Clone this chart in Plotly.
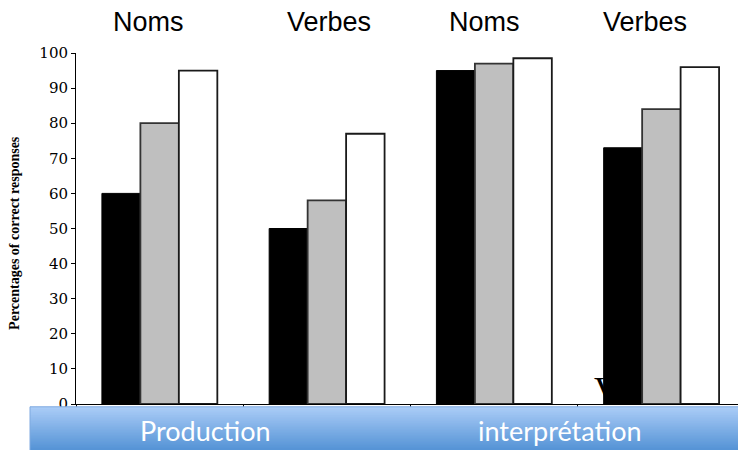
import plotly.graph_objects as go

# ---- data ----
groups = ["Noms", "Verbes", "Noms", "Verbes"]
tasks = ["Production", "interprétation"]
series_black = [60, 50, 95, 73]
series_gray = [80, 58, 97, 84]
series_white = [95, 77, 98.5, 96]
y_ticks = [0, 10, 20, 30, 40, 50, 60, 70, 80, 90, 100]
y_title = "Percentages of correct responses"

# the page body has an 8px margin; all pixel positions below are window pixels
OFF = 8
W, H = 746 - OFF, 450 - OFF
L, R, T, B = 76 - OFF, 1, 52.7 - OFF, 45.5
PW = W - L - R
PH = H - T - B


def px_x(px):
    return (px - OFF - L) / PW


def px_y(py):
    return (H - B - (py - OFF)) / PH


xpos = list(range(len(groups)))

fig = go.Figure()
fig.add_trace(go.Bar(x=xpos, y=series_black, marker=dict(color="#000000", line=dict(color="#000000", width=1)), showlegend=False))
fig.add_trace(go.Bar(x=xpos, y=series_gray, marker=dict(color="#bfbfbf", line=dict(color="#333333", width=1.8)), showlegend=False))
fig.add_trace(go.Bar(x=xpos, y=series_white, marker=dict(color="#ffffff", line=dict(color="#1a1a1a", width=1.8)), showlegend=False))

shapes = []
# gradient band: overlapping rects, each running from its top edge to the band bottom
top_px, bot_px = 407.3, 450
x0p, x1p = 30, 746
n = 43
c_top = (170, 204, 247)
c_bot = (86, 148, 214)
for i in range(n):
    t = i / (n - 1)
    c = tuple(round(c_top[k] + (c_bot[k] - c_top[k]) * t) for k in range(3))
    ya = top_px + (bot_px - top_px) * i / n
    shapes.append(dict(type="rect", xref="paper", yref="paper",
                       x0=px_x(x0p), x1=px_x(x1p), y0=px_y(bot_px + 2), y1=px_y(ya),
                       fillcolor="rgb(%d,%d,%d)" % c, line=dict(width=0), layer="above"))
shapes.append(dict(type="rect", xref="paper", yref="paper",
                   x0=px_x(x0p), x1=px_x(x1p), y0=px_y(bot_px + 2), y1=px_y(top_px),
                   fillcolor="rgba(0,0,0,0)", line=dict(color="#7fa9e0", width=1), layer="above"))

annotations = []
group_centers_px = [148, 329, 485, 645]
for g, cx in zip(groups, group_centers_px):
    annotations.append(dict(text=g, xref="paper", yref="paper", x=px_x(cx), y=px_y(22),
                            xanchor="center", yanchor="middle", showarrow=False,
                            font=dict(family="Liberation Sans, Arial", size=27, color="#000")))
task_centers_px = [205, 560]
for tname, cx in zip(tasks, task_centers_px):
    annotations.append(dict(text=tname, xref="paper", yref="paper", x=px_x(cx), y=px_y(431),
                            xanchor="center", yanchor="middle", showarrow=False,
                            font=dict(family="Lato, Open Sans, sans-serif", size=27, color="#ffffff")))
annotations.append(dict(text="<b>" + y_title + "</b>", xref="paper", yref="paper",
                        x=px_x(15), y=px_y(233), xanchor="center", yanchor="middle",
                        textangle=-90, showarrow=False,
                        font=dict(family="Liberation Serif, Times New Roman", size=14, color="#000")))
annotations.append(dict(text="V", xref="paper", yref="paper", x=px_x(592), y=px_y(390),
                        xanchor="left", yanchor="middle", showarrow=False,
                        font=dict(family="Liberation Serif, Times New Roman", size=36, color="#000")))

fig.update_layout(
    width=W, height=H,
    margin=dict(l=L, r=R, t=T, b=B, pad=0),
    paper_bgcolor="white", plot_bgcolor="white",
    barmode="group", bargap=0.31, bargroupgap=0,
    shapes=shapes, annotations=annotations,
    xaxis=dict(range=[-0.5, len(groups) - 0.5], tickvals=[i - 0.5 for i in range(len(groups) + 1)],
               showticklabels=False, ticks="outside", ticklen=5, tickcolor="#000", tickwidth=1,
               showline=True, linecolor="#000", linewidth=1, showgrid=False, zeroline=False,
               fixedrange=True),
    yaxis=dict(range=[0, 100], tickvals=y_ticks, ticks="outside", ticklen=4, tickcolor="#000",
               showline=True, linecolor="#000", linewidth=1, showgrid=False, zeroline=False,
               tickfont=dict(family="DejaVu Serif, Liberation Serif, serif", size=15, color="#000")),
)

fig.write_html("out.html")
